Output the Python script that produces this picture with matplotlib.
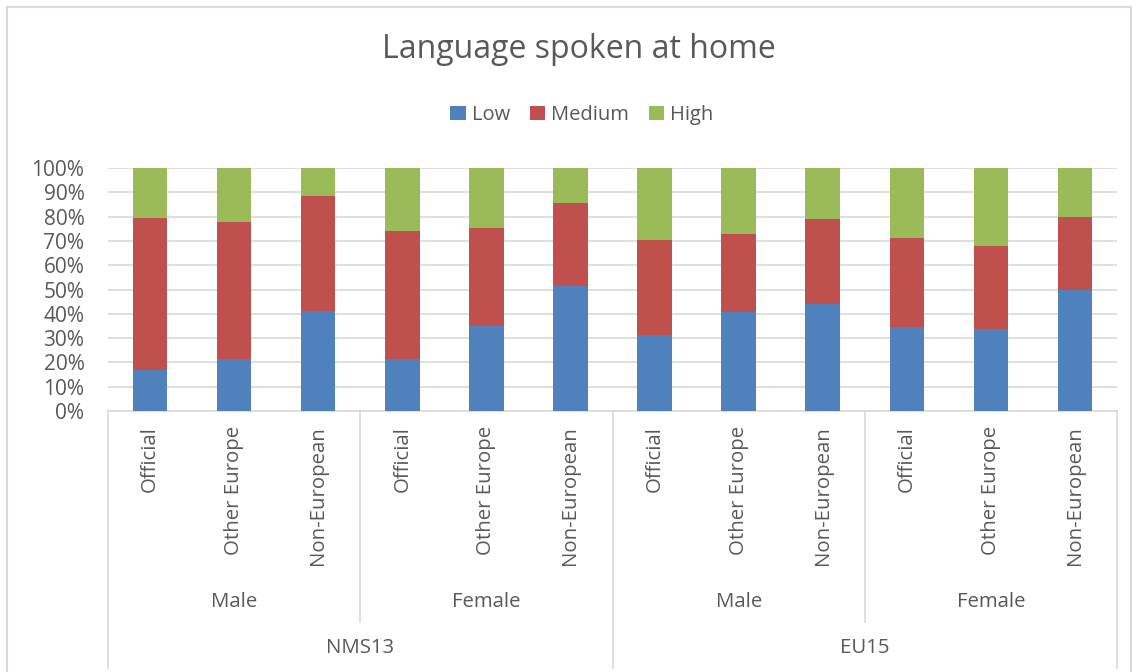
import numpy as np
import matplotlib
matplotlib.use("Agg")
import matplotlib.pyplot as plt
from matplotlib.patches import Rectangle
import matplotlib.transforms as mtransforms

plt.rcParams['font.family'] = ['Open Sans', 'DejaVu Sans']

# data (percent of each bar)
categories = ["Official", "Other Europe", "Non-European"] * 4
sex_groups = ["Male", "Female", "Male", "Female"]
regions = ["NMS13", "EU15"]
low = [16.7, 21.5, 41.3, 21.2, 34.9, 51.3, 31.1, 40.6, 44.0, 34.5, 33.9, 49.8]
low_medium = [79.3, 77.6, 88.4, 74.0, 75.4, 85.6, 70.2, 72.9, 78.9, 71.0, 68.1, 79.8]
medium = [lm - l for lm, l in zip(low_medium, low)]
high = [100 - lm for lm in low_medium]

BLUE = "#4F81BD"
RED = "#C0504D"
GREEN = "#9BBB59"
TXT = "#595959"
GRID = "#D9D9D9"

W, H = 1139, 672
fig = plt.figure(figsize=(W / 100, H / 100), dpi=100)
ax = fig.add_axes([108 / W, 1 - 411 / H, (1117 - 108) / W, (411 - 168) / H])

x = np.arange(len(categories))
bw = 0.41
ax.bar(x, low, bw, color=BLUE, label="Low", zorder=3)
ax.bar(x, medium, bw, bottom=low, color=RED, label="Medium", zorder=3)
ax.bar(x, high, bw, bottom=low_medium, color=GREEN, label="High", zorder=3)

ax.set_xlim(-0.5, len(categories) - 0.5)
ax.set_ylim(0, 100)
ax.set_yticks(np.arange(0, 101, 10))
ax.set_yticklabels([f"{v}%" for v in range(0, 101, 10)], fontsize=15, color=TXT)
ax.yaxis.grid(True, color=GRID, linewidth=1.2, zorder=0)
ax.tick_params(axis="y", length=0, pad=17)

ax.set_xticks(x)
ax.set_xticklabels(categories, rotation=90, fontsize=14.7, color=TXT, va="top")
ax.tick_params(axis="x", length=0, pad=11)

for s in ["top", "right", "left"]:
    ax.spines[s].set_visible(False)
ax.spines["bottom"].set_color(GRID)
ax.spines["bottom"].set_linewidth(1.2)

trans = mtransforms.blended_transform_factory(ax.transData, ax.transAxes)
unit = 411 - 168
for i, g in enumerate(sex_groups):
    ax.text(3 * i + 1, (411 - 602) / unit, g, transform=trans, ha="center",
            va="center", fontsize=14.7, color=TXT)
for i, r in enumerate(regions):
    ax.text(6 * i + 2.5, (411 - 648) / unit, r, transform=trans, ha="center",
            va="center", fontsize=14.7, color=TXT)

for xv in [-0.5, 5.5, 11.5]:
    ax.plot([xv, xv], [0, (411 - 668) / unit], transform=trans, color=GRID,
            linewidth=1.2, clip_on=False)
for xv in [2.5, 8.5]:
    ax.plot([xv, xv], [0, (411 - 622) / unit], transform=trans, color=GRID,
            linewidth=1.2, clip_on=False)

fig.text(579 / W, 1 - 50 / H, "Language spoken at home", ha="center",
         va="center", fontsize=23, color=TXT)

fig.legend(loc="center", bbox_to_anchor=(582 / W, 1 - 115 / H), ncol=3,
           frameon=False, fontsize=14.5, handlelength=0.75, handleheight=0.75,
           handletextpad=0.3, columnspacing=1.0, labelcolor=TXT)

# outer chart border
fig.patches.append(Rectangle((7 / W, -0.1), (1131 - 7) / W, 1.1 - 7 / H,
                             transform=fig.transFigure, fill=False,
                             edgecolor=GRID, linewidth=1.5))

fig.savefig("out.png", dpi=100)
